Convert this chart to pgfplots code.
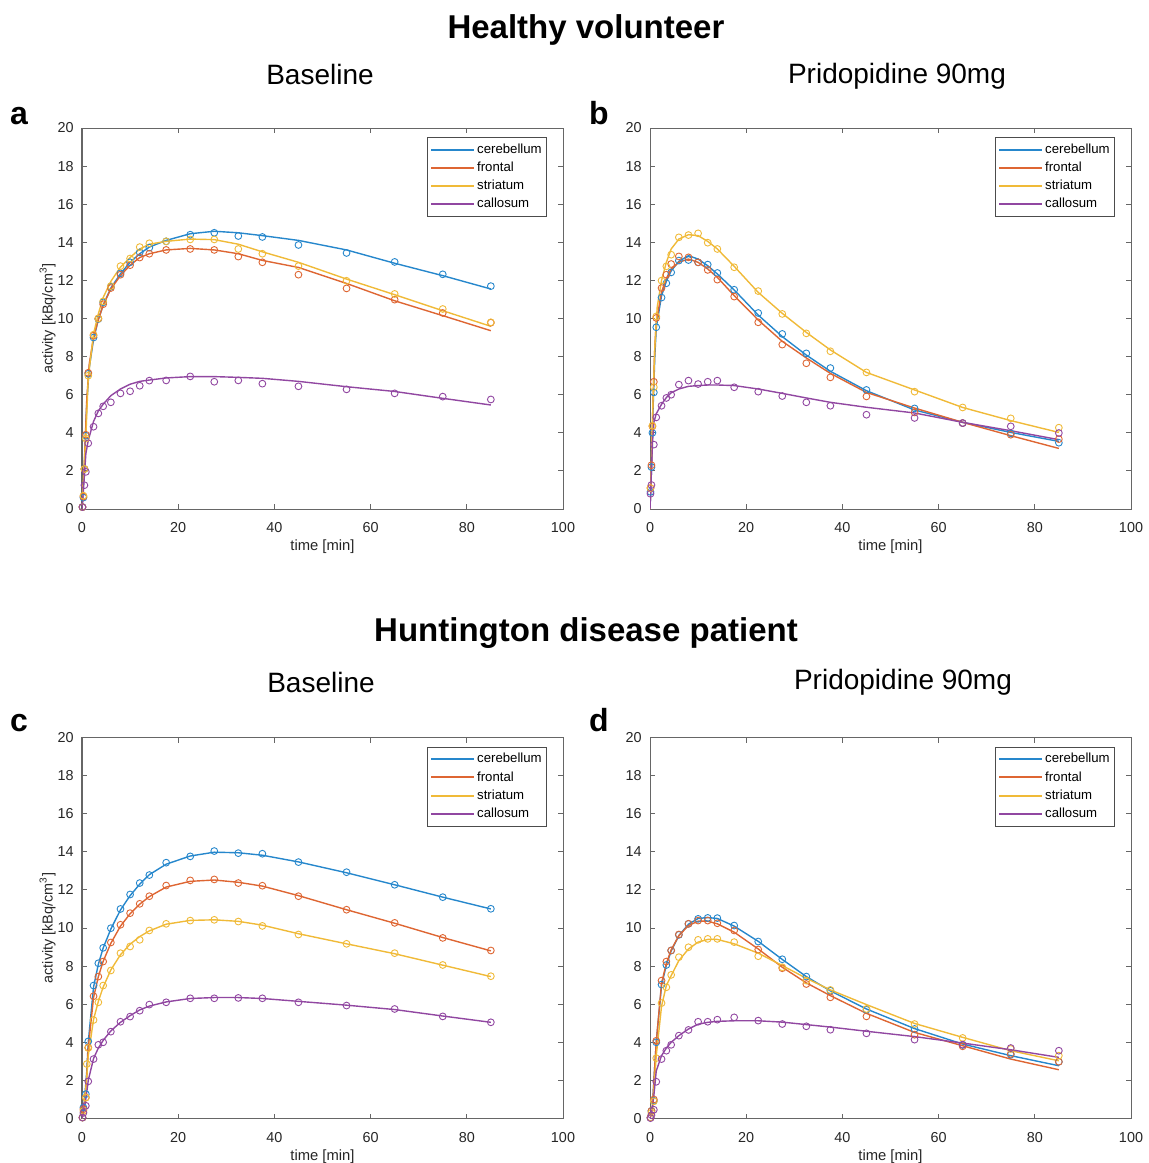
\documentclass[border=0pt]{standalone}
\usepackage{fontspec}
\setmainfont{Liberation Sans}
\usepackage{pgfplots}
\pgfplotsset{compat=1.18}

\definecolor{mlblue}{rgb}{0.15,0.53,0.80}
\definecolor{mlorange}{rgb}{0.87,0.40,0.20}
\definecolor{mlyellow}{rgb}{0.94,0.73,0.22}
\definecolor{mlpurple}{rgb}{0.57,0.28,0.63}

\pgfplotsset{
  panel/.style={
    scale only axis, width=240.5pt, height=190.5pt,
    xmin=0, xmax=100, ymin=0, ymax=20,
    xtick={0,20,...,100}, ytick={0,2,...,20},
    tick align=inside, xtick pos=both, ytick pos=both,
    major tick length=2.5pt,
    axis line style={black!60, line width=0.5pt},
    tick style={black!60, line width=0.5pt},
    ticklabel style={font=\fontsize{7.2}{8}\selectfont, text=black!85},
    /pgf/number format/assume math mode=true,
    xticklabel style={yshift=-3.3pt},
    yticklabel style={xshift=-0.6pt},
    xlabel={time [min]},
    xlabel style={font=\fontsize{7.4}{8}\selectfont, text=black!85,
      at={(axis description cs:0.5,0)}, anchor=north, yshift=-15.3pt, inner sep=0pt},
    ylabel style={font=\fontsize{7.2}{8}\selectfont, text=black!85,
      at={(axis description cs:-0.0717,0.5)}, anchor=center, inner sep=0pt},
    legend style={at={(0.967,0.976)}, anchor=north east, draw=black!70,
      line width=0.4pt, font=\fontsize{6.6}{7}\selectfont,
      row sep=0.9pt, inner xsep=1.5pt, inner ysep=2pt,
      nodes={inner sep=1pt, text height=4.9pt, text depth=1.3pt}},
    legend cell align=left,
  },
  cb/.style={mlblue, line width=0.7pt, no markers,
    legend image code/.code={\draw[mlblue, line width=1pt] (0pt,0pt) -- (21.5pt,0pt);}},
  cf/.style={mlorange, line width=0.7pt, no markers,
    legend image code/.code={\draw[mlorange, line width=1pt] (0pt,0pt) -- (21.5pt,0pt);}},
  cs/.style={mlyellow, line width=0.7pt, no markers,
    legend image code/.code={\draw[mlyellow, line width=1pt] (0pt,0pt) -- (21.5pt,0pt);}},
  cc/.style={mlpurple, line width=0.7pt, no markers,
    legend image code/.code={\draw[mlpurple, line width=1pt] (0pt,0pt) -- (21.5pt,0pt);}},
  pt/.style={#1, only marks, mark=o, mark size=1.7pt, mark options={line width=0.45pt}, forget plot},
}

\begin{document}
\begin{tikzpicture}
\useasboundingbox (0pt,0pt) rectangle (574.5pt,-581.5pt);

% titles
\node[anchor=base, font=\bfseries\fontsize{16.5}{18}\selectfont] at (293pt,-19pt) {Healthy volunteer};
\node[anchor=base, font=\fontsize{14}{16}\selectfont] at (160pt,-42pt) {Baseline};
\node[anchor=base, font=\fontsize{14}{16}\selectfont] at (448.5pt,-41.5pt) {Pridopidine 90mg};
\node[anchor=base, font=\bfseries\fontsize{16}{18}\selectfont] at (9.5pt,-62pt) {a};
\node[anchor=base, font=\bfseries\fontsize{16}{18}\selectfont] at (299.5pt,-62pt) {b};
\node[anchor=base, font=\bfseries\fontsize{16.5}{18}\selectfont] at (293pt,-320.5pt) {Huntington disease patient};
\node[anchor=base, font=\fontsize{14}{16}\selectfont] at (160.5pt,-346pt) {Baseline};
\node[anchor=base, font=\fontsize{14}{16}\selectfont] at (451.5pt,-344.5pt) {Pridopidine 90mg};
\node[anchor=base, font=\bfseries\fontsize{16}{18}\selectfont] at (9.5pt,-365.5pt) {c};
\node[anchor=base, font=\bfseries\fontsize{16}{18}\selectfont] at (299.5pt,-365.5pt) {d};

% ---------------- a: healthy volunteer, baseline
\begin{axis}[panel, at={(41pt,-254.5pt)}, anchor=south west, ylabel={activity [kBq/cm\textsuperscript{3}]}]
\addplot[cb] coordinates {(0,0) (0.5,2.3) (1,5.6) (1.5,7.4) (2.4,8.9) (3.4,9.95) (4.4,10.7) (6,11.6) (8,12.35) (10,12.95) (12,13.4) (14,13.75) (17.5,14.1) (22.5,14.45) (27.5,14.58) (32.5,14.5) (37.5,14.35) (45,14.1) (55,13.6) (65,12.9) (75,12.25) (85,11.55)};
\addlegendentry{cerebellum}
\addplot[cf] coordinates {(0,0) (0.5,2.5) (1,5.8) (1.5,7.6) (2.4,9.0) (3.4,9.95) (4.4,10.7) (6,11.55) (8,12.25) (10,12.8) (12,13.2) (14,13.4) (17.5,13.6) (22.5,13.68) (27.5,13.6) (32.5,13.4) (37.5,13.05) (45,12.68) (55,11.84) (65,10.93) (75,10.15) (85,9.36)};
\addlegendentry{frontal}
\addplot[cs] coordinates {(0,0) (0.5,2.5) (0.8,3.8) (1.3,6.9) (2.4,9.2) (3.4,10.25) (4.4,11.1) (6,11.95) (8,12.7) (10,13.2) (12,13.65) (14,13.9) (17.5,14.05) (22.5,14.17) (27.5,14.14) (32.5,13.9) (37.5,13.5) (45,12.95) (55,12.07) (65,11.25) (75,10.41) (85,9.59)};
\addlegendentry{striatum}
\addplot[cc] coordinates {(0,0) (0.3,1.0) (0.8,2.9) (1.3,3.6) (2.4,4.6) (3.4,5.15) (4.4,5.5) (6,5.95) (8,6.3) (10,6.55) (12,6.7) (14,6.77) (17.5,6.88) (22.5,6.95) (27.5,6.95) (32.5,6.91) (37.5,6.86) (45,6.7) (55,6.42) (65,6.17) (75,5.81) (85,5.46)};
\addlegendentry{callosum}
\addplot[pt=mlblue] coordinates {(0.1,0.1) (0.3,0.6) (0.5,2.1) (0.8,3.85) (1.3,7.1) (2.4,9.0) (3.4,9.97) (4.4,10.85) (6,11.67) (8,12.37) (10,12.95) (12,13.47) (14,13.72) (17.5,14.05) (22.5,14.4) (27.5,14.5) (32.5,14.33) (37.5,14.28) (45,13.86) (55,13.44) (65,12.97) (75,12.32) (85,11.7)};
\addplot[pt=mlorange] coordinates {(0.1,0.1) (0.3,0.65) (0.5,2.1) (0.8,3.9) (1.3,7.15) (2.4,9.1) (3.4,10.0) (4.4,10.75) (6,11.6) (8,12.3) (10,12.8) (12,13.2) (14,13.4) (17.5,13.6) (22.5,13.65) (27.5,13.6) (32.5,13.25) (37.5,12.95) (45,12.3) (55,11.58) (65,10.99) (75,10.29) (85,9.78)};
\addplot[pt=mlyellow] coordinates {(0.1,0.1) (0.3,0.7) (0.5,2.1) (0.8,3.7) (1.3,7.0) (2.4,9.15) (3.4,10.0) (4.4,10.9) (6,11.7) (8,12.75) (10,13.15) (12,13.75) (14,13.95) (17.5,14.05) (22.5,14.15) (27.5,14.15) (32.5,13.65) (37.5,13.4) (45,12.75) (55,11.98) (65,11.29) (75,10.5) (85,9.8)};
\addplot[pt=mlpurple] coordinates {(0.1,0.1) (0.5,1.25) (0.8,1.95) (1.3,3.45) (2.4,4.32) (3.4,5.02) (4.4,5.39) (6,5.6) (8,6.07) (10,6.18) (12,6.47) (14,6.74) (17.5,6.75) (22.5,6.96) (27.5,6.68) (32.5,6.75) (37.5,6.58) (45,6.44) (55,6.28) (65,6.07) (75,5.9) (85,5.75)};
\end{axis}

% ---------------- b: healthy volunteer, pridopidine
\begin{axis}[panel, at={(325pt,-254.5pt)}, anchor=south west]
\addplot[cb] coordinates {(0,0) (0.3,2.0) (0.6,5.0) (1,8.0) (1.3,9.5) (2.4,11.2) (3.4,11.95) (4.4,12.5) (6,13.0) (8,13.3) (10,13.12) (12,12.77) (14,12.34) (17.5,11.5) (22.5,10.18) (27.5,9.05) (32.5,8.08) (37.5,7.23) (45,6.21) (55,5.2) (65,4.55) (75,4.02) (85,3.55)};
\addlegendentry{cerebellum}
\addplot[cf] coordinates {(0,0) (0.3,2.2) (0.6,5.5) (1,8.5) (1.3,9.8) (2.4,11.4) (3.4,12.1) (4.4,12.6) (6,12.95) (8,13.12) (10,12.95) (12,12.6) (14,12.16) (17.5,11.2) (22.5,9.92) (27.5,8.8) (32.5,7.93) (37.5,7.12) (45,6.12) (55,5.3) (65,4.55) (75,3.85) (85,3.18)};
\addlegendentry{frontal}
\addplot[cs] coordinates {(0,0) (0.3,2.5) (0.6,5.5) (1,8.5) (1.5,10.6) (2.4,12.0) (3.4,12.95) (4.4,13.65) (6,14.17) (8,14.4) (10,14.35) (12,14.05) (14,13.65) (17.5,12.74) (22.5,11.37) (27.5,10.27) (32.5,9.27) (37.5,8.35) (45,7.17) (55,6.25) (65,5.33) (75,4.64) (85,4.02)};
\addlegendentry{striatum}
\addplot[cc] coordinates {(0,0) (0.3,2.0) (0.5,3.4) (0.8,4.55) (1.3,5.0) (2.4,5.5) (3.4,5.85) (4.4,6.1) (6,6.3) (8,6.44) (10,6.48) (12,6.51) (14,6.51) (17.5,6.48) (22.5,6.3) (27.5,6.07) (32.5,5.83) (37.5,5.6) (45,5.34) (55,5.04) (65,4.55) (75,4.11) (85,3.64)};
\addlegendentry{callosum}
\addplot[pt=mlblue] coordinates {(0.1,0.9) (0.3,2.2) (0.5,4.0) (0.8,6.12) (1.3,9.54) (2.4,11.1) (3.4,11.85) (4.4,12.42) (6,13.04) (8,13.07) (10,12.95) (12,12.83) (14,12.39) (17.5,11.51) (22.5,10.29) (27.5,9.19) (32.5,8.17) (37.5,7.4) (45,6.25) (55,5.28) (65,4.51) (75,3.97) (85,3.48)};
\addplot[pt=mlorange] coordinates {(0.1,1.1) (0.3,2.3) (0.5,4.34) (0.8,6.68) (1.3,10.03) (2.4,11.6) (3.4,12.3) (4.4,12.86) (6,13.26) (8,13.21) (10,12.95) (12,12.55) (14,12.04) (17.5,11.15) (22.5,9.8) (27.5,8.63) (32.5,7.65) (37.5,6.91) (45,5.91) (55,5.07) (65,4.51) (75,3.9) (85,3.67)};
\addplot[pt=mlyellow] coordinates {(0.1,1.1) (0.5,4.37) (0.8,6.4) (1.3,10.11) (2.4,11.99) (3.4,12.74) (4.4,13.35) (6,14.26) (8,14.38) (10,14.47) (12,13.98) (14,13.65) (17.5,12.69) (22.5,11.44) (27.5,10.24) (32.5,9.22) (37.5,8.28) (45,7.17) (55,6.16) (65,5.33) (75,4.76) (85,4.27)};
\addplot[pt=mlpurple] coordinates {(0.1,0.8) (0.3,1.26) (0.8,3.38) (1.3,4.81) (2.4,5.42) (3.4,5.83) (4.4,6.0) (6,6.53) (8,6.74) (10,6.56) (12,6.68) (14,6.74) (17.5,6.39) (22.5,6.16) (27.5,5.93) (32.5,5.6) (37.5,5.42) (45,4.95) (55,4.78) (65,4.51) (75,4.34) (85,3.99)};
\end{axis}

% ---------------- c: HD patient, baseline
\begin{axis}[panel, at={(41pt,-559.25pt)}, anchor=south west, ylabel={activity [kBq/cm\textsuperscript{3}]}]
\addplot[cb] coordinates {(0,0) (0.5,0.9) (1.0,2.5) (1.3,4.0) (2.4,6.9) (3.4,8.1) (4.4,8.95) (6,9.95) (8,10.95) (10,11.7) (12,12.3) (14,12.8) (17.5,13.35) (22.5,13.78) (27.5,13.98) (32.5,13.95) (37.5,13.82) (45,13.47) (55,12.9) (65,12.27) (75,11.62) (85,11.0)};
\addlegendentry{cerebellum}
\addplot[cf] coordinates {(0,0) (0.5,0.8) (1.0,2.3) (1.3,3.7) (2.4,6.35) (3.4,7.45) (4.4,8.25) (6,9.2) (8,10.1) (10,10.75) (12,11.25) (14,11.65) (17.5,12.15) (22.5,12.45) (27.5,12.52) (32.5,12.4) (37.5,12.2) (45,11.7) (55,10.96) (65,10.25) (75,9.5) (85,8.8)};
\addlegendentry{frontal}
\addplot[cs] coordinates {(0,0) (0.5,0.7) (1.0,2.2) (1.3,3.3) (2.4,5.2) (3.4,6.15) (4.4,6.9) (6,7.8) (8,8.6) (10,9.15) (12,9.55) (14,9.85) (17.5,10.2) (22.5,10.4) (27.5,10.43) (32.5,10.35) (37.5,10.15) (45,9.7) (55,9.17) (65,8.65) (75,8.05) (85,7.45)};
\addlegendentry{striatum}
\addplot[cc] coordinates {(0,0) (0.5,0.5) (1.0,1.4) (1.3,2.0) (2.4,3.15) (3.4,3.7) (4.4,4.1) (6,4.6) (8,5.05) (10,5.4) (12,5.7) (14,5.9) (17.5,6.12) (22.5,6.3) (27.5,6.35) (32.5,6.35) (37.5,6.3) (45,6.15) (55,5.95) (65,5.72) (75,5.38) (85,5.05)};
\addlegendentry{callosum}
\addplot[pt=mlblue] coordinates {(0.1,0.05) (0.3,0.58) (0.8,1.28) (1.3,4.05) (2.4,6.98) (3.4,8.15) (4.4,8.96) (6,9.99) (8,11.0) (10,11.76) (12,12.36) (14,12.78) (17.5,13.43) (22.5,13.76) (27.5,14.04) (32.5,13.93) (37.5,13.9) (45,13.46) (55,12.93) (65,12.27) (75,11.62) (85,11.01)};
\addplot[pt=mlorange] coordinates {(0.1,0.05) (0.3,0.49) (0.8,1.1) (1.3,3.73) (2.4,6.42) (3.4,7.45) (4.4,8.24) (6,9.24) (8,10.17) (10,10.78) (12,11.27) (14,11.67) (17.5,12.23) (22.5,12.5) (27.5,12.55) (32.5,12.36) (37.5,12.22) (45,11.67) (55,10.96) (65,10.27) (75,9.48) (85,8.82)};
\addplot[pt=mlyellow] coordinates {(0.1,0.05) (0.3,0.4) (0.8,1.1) (1.0,2.86) (1.3,3.7) (2.4,5.17) (3.4,6.1) (4.4,6.98) (6,7.77) (8,8.68) (10,9.03) (12,9.38) (14,9.87) (17.5,10.22) (22.5,10.39) (27.5,10.43) (32.5,10.34) (37.5,10.11) (45,9.66) (55,9.17) (65,8.68) (75,8.06) (85,7.47)};
\addplot[pt=mlpurple] coordinates {(0.1,0.05) (0.3,0.3) (0.8,0.67) (1.3,1.95) (2.4,3.12) (3.4,3.87) (4.4,4.0) (6,4.56) (8,5.08) (10,5.35) (12,5.66) (14,5.98) (17.5,6.1) (22.5,6.31) (27.5,6.31) (32.5,6.33) (37.5,6.31) (45,6.1) (55,5.93) (65,5.75) (75,5.36) (85,5.05)};
\end{axis}

% ---------------- d: HD patient, pridopidine
\begin{axis}[panel, at={(325pt,-559.25pt)}, anchor=south west]
\addplot[cb] coordinates {(0,0) (0.5,0.6) (1.0,2.8) (1.3,4.0) (2.4,7.0) (3.4,8.05) (4.4,8.8) (6,9.6) (8,10.2) (10,10.5) (12,10.55) (14,10.5) (17.5,10.1) (22.5,9.3) (27.5,8.35) (32.5,7.45) (37.5,6.7) (45,5.75) (55,4.72) (65,3.91) (75,3.3) (85,2.77)};
\addlegendentry{cerebellum}
\addplot[cf] coordinates {(0,0) (0.5,0.6) (1.0,2.8) (1.3,4.0) (2.4,7.1) (3.4,8.15) (4.4,8.85) (6,9.6) (8,10.13) (10,10.36) (12,10.36) (14,10.22) (17.5,9.78) (22.5,8.9) (27.5,7.94) (32.5,7.12) (37.5,6.45) (45,5.52) (55,4.52) (65,3.82) (75,3.12) (85,2.56)};
\addlegendentry{frontal}
\addplot[cs] coordinates {(0,0) (0.5,0.5) (1.0,2.2) (1.3,3.3) (2.4,5.9) (3.4,6.98) (4.4,7.5) (6,8.29) (8,8.9) (10,9.26) (12,9.4) (14,9.4) (17.5,9.17) (22.5,8.68) (27.5,8.03) (32.5,7.36) (37.5,6.75) (45,5.98) (55,4.99) (65,4.26) (75,3.56) (85,3.03)};
\addlegendentry{striatum}
\addplot[cc] coordinates {(0,0) (0.5,0.6) (0.8,1.2) (1.3,2.5) (2.4,3.3) (3.4,3.7) (4.4,4.0) (6,4.35) (8,4.7) (10,4.95) (12,5.05) (14,5.1) (17.5,5.13) (22.5,5.13) (27.5,5.06) (32.5,4.93) (37.5,4.8) (45,4.58) (55,4.3) (65,3.96) (75,3.61) (85,3.21)};
\addlegendentry{callosum}
\addplot[pt=mlblue] coordinates {(0.1,0.05) (0.3,0.4) (0.8,0.93) (1.3,4.0) (2.4,7.03) (3.4,8.06) (4.4,8.82) (6,9.64) (8,10.22) (10,10.48) (12,10.53) (14,10.52) (17.5,10.13) (22.5,9.29) (27.5,8.36) (32.5,7.45) (37.5,6.71) (45,5.71) (55,4.7) (65,3.86) (75,3.35) (85,2.98)};
\addplot[pt=mlorange] coordinates {(0.1,0.05) (0.3,0.4) (0.8,1.0) (1.3,4.08) (2.4,7.24) (3.4,8.24) (4.4,8.82) (6,9.66) (8,10.22) (10,10.39) (12,10.39) (14,10.25) (17.5,9.87) (22.5,8.87) (27.5,7.89) (32.5,7.06) (37.5,6.36) (45,5.36) (55,4.4) (65,3.79) (75,3.39) (85,2.98)};
\addplot[pt=mlyellow] coordinates {(0.1,0.05) (0.3,0.3) (0.8,0.9) (1.3,3.17) (2.4,6.06) (3.4,6.89) (4.4,7.54) (6,8.47) (8,8.99) (10,9.38) (12,9.43) (14,9.43) (17.5,9.26) (22.5,8.52) (27.5,7.94) (32.5,7.24) (37.5,6.75) (45,5.75) (55,4.96) (65,4.23) (75,3.65) (85,3.3)};
\addplot[pt=mlpurple] coordinates {(0.1,0.02) (0.3,0.18) (0.8,0.46) (1.3,1.93) (2.4,3.12) (3.4,3.56) (4.4,3.87) (6,4.35) (8,4.65) (10,5.08) (12,5.08) (14,5.19) (17.5,5.31) (22.5,5.14) (27.5,4.96) (32.5,4.84) (37.5,4.66) (45,4.47) (55,4.14) (65,3.88) (75,3.7) (85,3.56)};
\end{axis}
\end{tikzpicture}
\end{document}
